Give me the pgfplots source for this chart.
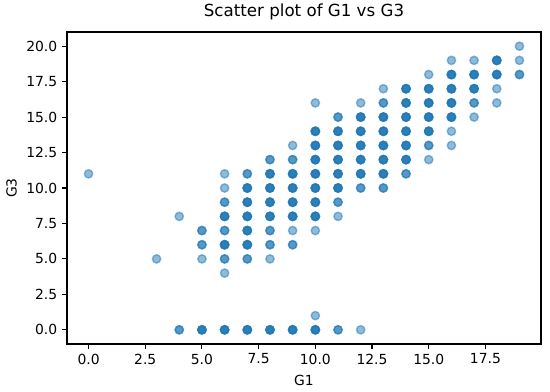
\documentclass[border=0pt]{standalone}
\usepackage{fontspec}
\setmainfont{DejaVu Sans}
\usepackage{pgfplots}
\usepackage{pgfplotstable}
\pgfplotsset{compat=1.18}
\definecolor{tabblue}{HTML}{1F77B4}
% light: one student at the grade pair
\pgfplotstableread{
x y
0 11
3 5
4 8
5 5
6 11
6 10
6 4
8 5
9 13
9 7
10 16
10 7
10 1
11 8
12 16
12 0
13 17
15 18
15 12
16 19
16 14
16 13
17 19
17 15
18 17
18 16
19 20
19 19
}\lightpts
% medium: a few students
\pgfplotstableread{
x y
4 0
5 7
5 6
6 9
6 7
6 5
7 11
7 5
8 12
8 7
8 6
9 12
9 6
11 15
11 9
11 0
12 10
13 16
13 10
14 11
15 13
17 16
19 18
}\mediumpts
% dark: many students
\pgfplotstableread{
x y
5 0
6 8
6 6
6 0
7 10
7 9
7 8
7 7
7 6
7 0
8 11
8 10
8 9
8 8
8 0
9 11
9 10
9 9
9 8
9 0
10 14
10 13
10 12
10 11
10 10
10 9
10 8
10 0
11 14
11 13
11 12
11 11
11 10
12 15
12 14
12 13
12 12
12 11
13 15
13 14
13 13
13 12
13 11
14 17
14 16
14 15
14 14
14 13
14 12
15 17
15 16
15 15
15 14
16 18
16 17
16 16
16 15
17 18
17 17
18 19
18 18
}\darkpts
\begin{document}
\begin{tikzpicture}
\begin{axis}[
  scale only axis, width=341.28pt, height=224.64pt,
  xmin=-0.95, xmax=19.95, ymin=-1, ymax=21,
  xtick={0,2.5,5,7.5,10,12.5,15,17.5},
  ytick={0,2.5,5,7.5,10,12.5,15,17.5,20},
  tick pos=left, tick align=outside, major tick length=3.5pt,
  every tick/.style={line width=0.8pt, black},
  axis line style={line width=0.8pt},
  /pgf/number format/assume math mode=true,
  xticklabel style={/pgf/number format/fixed, /pgf/number format/fixed zerofill, /pgf/number format/precision=1},
  yticklabel style={/pgf/number format/fixed, /pgf/number format/fixed zerofill, /pgf/number format/precision=1},
  tick label style={font=\fontsize{10}{12}\selectfont},
  label style={font=\fontsize{10}{12}\selectfont},
  title style={font=\fontsize{12}{14}\selectfont, at={([yshift=5.5pt]axis description cs:0.5,1)}, anchor=base},
  xlabel style={at={([yshift=-30.2pt]axis description cs:0.5,0)}, anchor=base},
  ylabel style={at={([xshift=-36.2pt]axis description cs:0,0.5)}, anchor=base},
  title={Scatter plot of G1 vs G3},
  xlabel={G1}, ylabel={G3},
  scatterpt/.style={only marks, mark=*, mark size=3pt,
    mark options={draw=tabblue, fill=tabblue, opacity=0.5, line width=1pt}},
]
\addplot[scatterpt] table {\lightpts};
\addplot[scatterpt] table {\mediumpts};
\addplot[scatterpt] table {\mediumpts};
\addplot[scatterpt] table {\darkpts};
\addplot[scatterpt] table {\darkpts};
\addplot[scatterpt] table {\darkpts};
\addplot[scatterpt] table {\darkpts};
\end{axis}
\pgfresetboundingbox
\path[use as bounding box] ([shift={(-48.24pt,-33.84pt)}]current axis.south west) rectangle ([shift={(347.76pt,247.68pt)}]current axis.south west);
\end{tikzpicture}
\end{document}
